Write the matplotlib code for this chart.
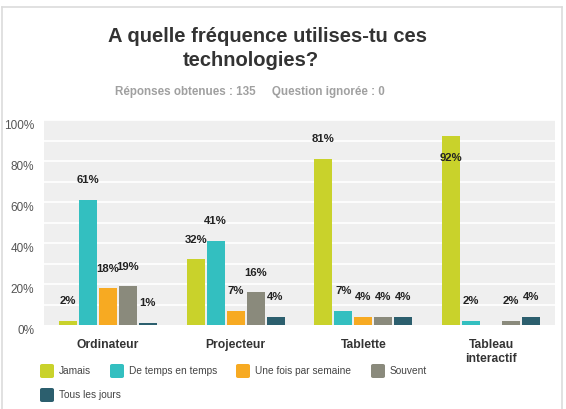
import matplotlib
matplotlib.use("Agg")
import matplotlib.pyplot as plt
from matplotlib.patches import FancyBboxPatch
from matplotlib.lines import Line2D
import numpy as np

categories = ["Ordinateur", "Projecteur", "Tablette", "Tableau\ninteractif"]
series_names = ["Jamais", "De temps en temps", "Une fois par semaine", "Souvent", "Tous les jours"]
jamais = [2, 32, 81, 92]
de_temps = [61, 41, 7, 2]
une_fois = [18, 7, 4, 0]
souvent = [19, 16, 4, 2]
tous_jours = [1, 4, 4, 4]
series_values = [jamais, de_temps, une_fois, souvent, tous_jours]
colors = ["#c9d22b", "#33bfc0", "#f7aa22", "#8a8a7c", "#2c5f6e"]
yticks = [0, 20, 40, 60, 80, 100]
ytick_labels = ["0%", "20%", "40%", "60%", "80%", "100%"]

W, H = 566, 409
fig = plt.figure(figsize=(W / 100, H / 100), dpi=100)
fig.patch.set_facecolor("white")
FONT = "Liberation Sans"

# outer frame
fig.add_artist(Line2D([2 / W, 562 / W], [1 - 7 / H, 1 - 7 / H], color="#dcdcdc", lw=1.2))
fig.add_artist(Line2D([2 / W, 2 / W], [0, 1 - 7 / H], color="#dcdcdc", lw=1.2))
fig.add_artist(Line2D([562 / W, 562 / W], [0, 1 - 7 / H], color="#dcdcdc", lw=1.2))

ax = fig.add_axes([44 / W, (H - 325) / H, 511 / W, 205 / H])
ax.set_facecolor("#efefef")
for s in ax.spines.values():
    s.set_visible(False)
ax.set_xlim(-0.5, 3.5)
ax.set_ylim(0, 100)
for g in range(10, 101, 10):
    ax.axhline(g, color="white", lw=1.2, zorder=1)

x = np.arange(len(categories))
step = 20 / 128
width = 18 / 128
for i, (vals, col) in enumerate(zip(series_values, colors)):
    xs = x + (i - 2) * step
    ax.bar(xs, vals, width=width, color=col, zorder=2)
    for xi, v in zip(xs, vals):
        if v <= 0:
            continue
        ty = v + 9.5
        if ty > 100:
            ty = v - 10.5
        ax.text(xi, ty, f"{v}%", ha="center", va="center", fontsize=8.2,
                fontweight="bold", color="#222222", family=FONT, zorder=3)

ax.set_yticks(yticks)
ax.set_yticklabels(ytick_labels, family=FONT, fontsize=8.5, color="#555555")
ax.tick_params(axis="y", length=0, pad=7)
for lab in ax.get_yticklabels():
    lab.set_verticalalignment("top")
ax.set_xticks(x)
ax.set_xticklabels(categories, family=FONT, fontsize=8.7, fontweight="bold",
                   color="#333333", va="top", linespacing=1.25)
ax.tick_params(axis="x", length=0, pad=10)

# title
fig.text(268 / W, 1 - 36 / H, "A quelle fréquence utilises-tu ces", ha="center", va="center",
         fontsize=14.5, fontweight="bold", color="#333333", family=FONT)
fig.text(251 / W, 1 - 61 / H, "technologies?", ha="center", va="center",
         fontsize=14.5, fontweight="bold", color="#333333", family=FONT)
fig.text(250 / W, 1 - 92 / H, "Réponses obtenues : 135     Question ignorée : 0", ha="center",
         va="center", fontsize=8.4, fontweight="bold", color="#a0a0a0", family=FONT)

# legend (flow layout)
legend_pos = [(40, 371), (110, 371), (236, 371), (371, 371), (40, 395)]
for name, col, (px, py) in zip(series_names, colors, legend_pos):
    box = FancyBboxPatch((px / W, 1 - (py + 7) / H), 14 / W, 14 / H,
                         boxstyle="round,pad=0,rounding_size=0.004",
                         transform=fig.transFigure, facecolor=col, edgecolor="none")
    fig.add_artist(box)
    fig.text((px + 19) / W, 1 - py / H, name, ha="left", va="center", fontsize=7.3,
             color="#444444", family=FONT)

fig.savefig("out.png", dpi=100)
